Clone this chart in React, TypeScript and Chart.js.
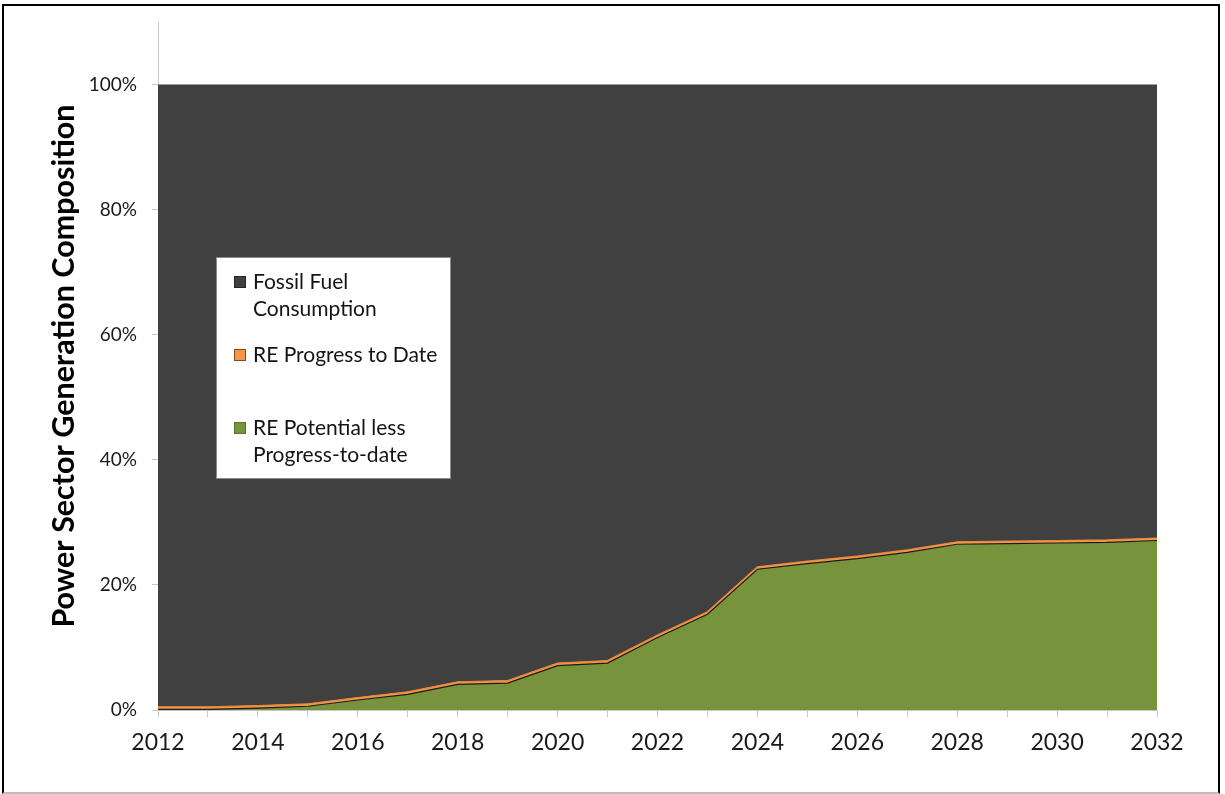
import React, { useEffect, useRef } from "react";
import { Chart, registerables } from "chart.js";

Chart.register(...registerables);

const years = [
  "2012", "2013", "2014", "2015", "2016", "2017", "2018", "2019", "2020", "2021", "2022",
  "2023", "2024", "2025", "2026", "2027", "2028", "2029", "2030", "2031", "2032",
];

// RE Potential less Progress-to-date (%)
const rePotential = [
  0.1, 0.1, 0.3, 0.6, 1.6, 2.5, 4.1, 4.3, 7.1, 7.5, 11.6,
  15.3, 22.5, 23.4, 24.2, 25.2, 26.5, 26.6, 26.7, 26.8, 27.1,
];

// RE Progress to Date (%)
const reProgress = [
  0.4, 0.4, 0.4, 0.4, 0.4, 0.4, 0.4, 0.4, 0.4, 0.4, 0.4,
  0.4, 0.4, 0.4, 0.4, 0.4, 0.4, 0.4, 0.4, 0.4, 0.4,
];

// Fossil Fuel Consumption (%)
const fossilFuel = [
  99.5, 99.5, 99.3, 99.0, 98.0, 97.1, 95.5, 95.3, 92.5, 92.1, 88.0,
  84.3, 77.1, 76.2, 75.4, 74.4, 73.1, 73.0, 72.9, 72.8, 72.5,
];

const yTicks = [0, 20, 40, 60, 80, 100];

const FONT = "Lato, 'Open Sans', sans-serif";
const C_FOSSIL = "#404040";
const C_PROGRESS = "#F79646";
const C_POTENTIAL = "#77933C";

const legendItems = [
  { lines: ["Fossil Fuel", "Consumption"], color: C_FOSSIL, border: "#262626" },
  { lines: ["RE Progress to Date"], color: C_PROGRESS, border: "#7f4a1e" },
  { lines: ["RE Potential less", "Progress-to-date"], color: C_POTENTIAL, border: "#5a7030" },
];

const legendPlugin = {
  id: "boxLegend",
  afterDraw(chart: any) {
    const { ctx, chartArea } = chart;
    const bx = chartArea.left + 58;
    const by = chartArea.top + 235;
    const bw = 235;
    const bh = 222;
    ctx.save();
    ctx.fillStyle = "#ffffff";
    ctx.fillRect(bx, by, bw, bh);
    ctx.strokeStyle = "#8c8c8c";
    ctx.lineWidth = 1;
    ctx.strokeRect(bx + 0.5, by + 0.5, bw - 1, bh - 1);
    const firstLineY = [by + 25, by + 98, by + 171];
    ctx.font = `21px ${FONT}`;
    ctx.textBaseline = "middle";
    ctx.textAlign = "left";
    legendItems.forEach((it, i) => {
      const cy = firstLineY[i];
      ctx.fillStyle = it.color;
      ctx.fillRect(bx + 18, cy - 6, 12, 12);
      ctx.strokeStyle = it.border;
      ctx.strokeRect(bx + 18.5, cy - 5.5, 11, 11);
      ctx.fillStyle = "#141414";
      it.lines.forEach((ln, j) => {
        ctx.fillText(ln, bx + 37, cy + j * 27);
      });
    });
    ctx.restore();
  },
};

export default function App() {
  const ref = useRef<HTMLCanvasElement | null>(null);

  useEffect(() => {
    if (!ref.current) return;
    const chart = new Chart(ref.current, {
      type: "line",
      data: {
        labels: years,
        datasets: [
          {
            label: "RE Potential less Progress-to-date",
            data: rePotential,
            backgroundColor: C_POTENTIAL,
            borderColor: "#1a1a1a",
            borderWidth: 1.2,
            fill: "origin",
            pointRadius: 0,
            tension: 0,
          },
          {
            label: "RE Progress to Date",
            data: reProgress,
            backgroundColor: C_PROGRESS,
            borderColor: "#E8873A",
            borderWidth: 1.2,
            fill: "-1",
            pointRadius: 0,
            tension: 0,
          },
          {
            label: "Fossil Fuel Consumption",
            data: fossilFuel,
            backgroundColor: C_FOSSIL,
            borderColor: C_FOSSIL,
            borderWidth: 0,
            fill: "-1",
            pointRadius: 0,
            tension: 0,
          },
        ],
      },
      options: {
        responsive: false,
        animation: false,
        devicePixelRatio: 1,
        layout: { padding: { left: 0, top: 22, right: 68, bottom: 0 } },
        plugins: {
          legend: { display: false },
          tooltip: { enabled: false },
        },
        scales: {
          x: {
            type: "category",
            offset: false,
            grid: {
              drawOnChartArea: false,
              drawTicks: true,
              tickLength: 7,
              color: "#c8c8c8",
            },
            border: { display: true, color: "#c8c8c8" },
            ticks: {
              autoSkip: false,
              maxRotation: 0,
              minRotation: 0,
              padding: 12,
              color: "#1a1a1a",
              font: { family: FONT, size: 23 },
              callback: (_v: any, i: number) => (i % 2 === 0 ? years[i] : ""),
            },
            afterFit: (s: any) => {
              s.height = 84;
              s.paddingLeft = 0;
              s.paddingRight = 0;
            },
          },
          y: {
            stacked: true,
            min: 0,
            max: 110,
            grid: {
              drawOnChartArea: false,
              drawTicks: true,
              tickLength: 6,
              color: "#c8c8c8",
            },
            border: { display: true, color: "#c8c8c8" },
            afterBuildTicks: (s: any) => {
              s.ticks = yTicks.map((v) => ({ value: v }));
            },
            ticks: {
              padding: 15,
              color: "#1a1a1a",
              font: { family: FONT, size: 19 },
              callback: (v: any) => `${v}%`,
            },
            title: {
              display: true,
              text: "Power Sector Generation Composition",
              color: "#000000",
              font: { family: FONT, size: 30.5, weight: "bold" },
              padding: { top: 46, bottom: 0 },
            },
            afterFit: (s: any) => {
              s.width = 158;
              s.paddingTop = 0;
              s.paddingBottom = 0;
            },
          },
        },
      },
      plugins: [legendPlugin],
    });
    return () => chart.destroy();
  }, []);

  return (
    <div
      style={{
        position: "fixed",
        left: 0,
        top: 0,
        width: 1225,
        height: 794,
        background: "#ffffff",
        overflow: "hidden",
      }}
    >
      <canvas
        ref={ref}
        width={1225}
        height={794}
        style={{ position: "absolute", left: 0, top: 0, width: 1225, height: 794 }}
      />
      <div
        style={{
          position: "absolute",
          left: 2,
          top: 4,
          width: 1214,
          height: 786,
          borderLeft: "2px solid #000",
          borderTop: "2px solid #000",
          borderRight: "2px solid #000",
          borderBottom: "2px solid #bdbdbd",
          pointerEvents: "none",
        }}
      />
    </div>
  );
}
